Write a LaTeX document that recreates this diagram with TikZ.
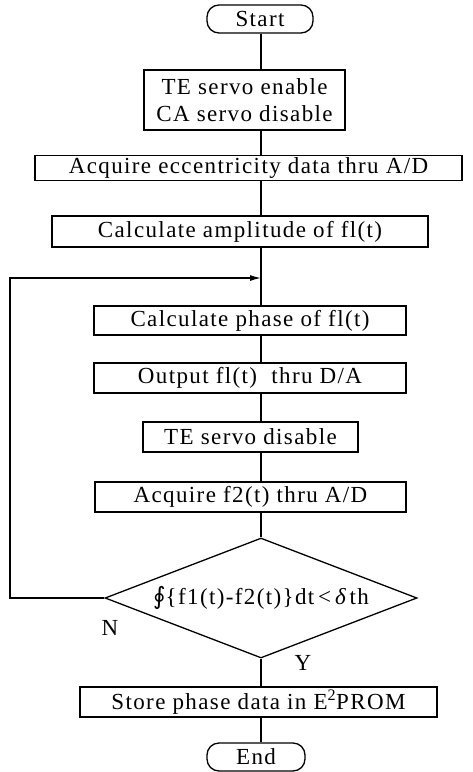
\documentclass[tikz,border=0pt]{standalone}
\usepackage{fontspec}
\setmainfont{Liberation Serif}[LetterSpace=6.0]
\newfontfamily\symfont{DejaVu Sans}
\usetikzlibrary{shapes.geometric, arrows, arrows.meta, positioning}

\begin{document}
\begin{tikzpicture}[x=1pt, y=-1pt, line width=1.3pt,
                    every node/.style={font=\fontsize{23}{27}\selectfont, inner sep=0pt},
                    procbox/.style={draw, rectangle, minimum height=30pt},
                    termbox/.style={draw, rectangle, rounded corners=12pt, minimum height=28pt},
                    decbox/.style={draw, diamond, shape aspect=2.6, minimum width=312pt, minimum height=120pt}]
                    \useasboundingbox (0,0) rectangle (473,772);
                    % flow nodes
                    \node[termbox, minimum width=106pt] (start) at (260,19) {Start};
                    \node[procbox, minimum width=201pt, minimum height=60pt, align=center] (en) at (244.5,100) {TE servo enable\\CA servo disable};
                    \node[procbox, minimum width=427pt, minimum height=25pt] (ecc) at (248.5,168) {Acquire eccentricity data thru A/D};
                    \node[procbox, minimum width=376pt, minimum height=31pt] (amp) at (240,231.5) {Calculate amplitude of fl(t)};
                    \node[procbox, minimum width=312pt, minimum height=29pt] (phase) at (250,320.5) {Calculate phase of fl(t)};
                    \node[procbox, minimum width=312pt] (out) at (250,378) {Output fl(t)\ \ thru D/A};
                    \node[procbox, minimum width=215pt] (dis) at (250.5,437) {TE servo disable};
                    \node[procbox, minimum width=311pt] (acq) at (250.5,497) {Acquire f2(t) thru A/D};
                    \node[decbox] (dec) at (261,598) {{\symfont\fontsize{24}{27}\selectfont ∮}\{f1(t)-f2(t)\}dt\,<\,{\itshape δ}\,th};
                    \node[procbox, minimum width=357pt] (store) at (258.5,702) {Store phase data in E\textsuperscript{2}PROM};
                    \node[termbox, minimum width=98pt] (end) at (256,757) {End};
                    \node (nlab) at (110,628) {N};
                    \node (ylab) at (303,663) {Y};
                    % connectors
                    \coordinate (spine) at (261,0);
                    \coordinate (join) at (261,278);
                    \coordinate (lft) at (10,278);
                    \draw (spine |- start.south) -- (spine |- en.north);
                    \draw (spine |- en.south) -- (spine |- ecc.north);
                    \draw (spine |- ecc.south) -- (spine |- amp.north);
                    \draw (spine |- amp.south) -- (spine |- phase.north);
                    \draw (spine |- phase.south) -- (spine |- out.north);
                    \draw (spine |- out.south) -- (spine |- dis.north);
                    \draw (spine |- dis.south) -- (spine |- acq.north);
                    \draw (spine |- acq.south) -- (dec.north);
                    \draw (dec.south) -- (spine |- store.north);
                    \draw (spine |- store.south) -- (spine |- end.north);
                    \draw[-{Latex[length=11pt,width=6pt]}] (dec.west) -| (lft) -- (join);
                \end{tikzpicture}
\end{document}
